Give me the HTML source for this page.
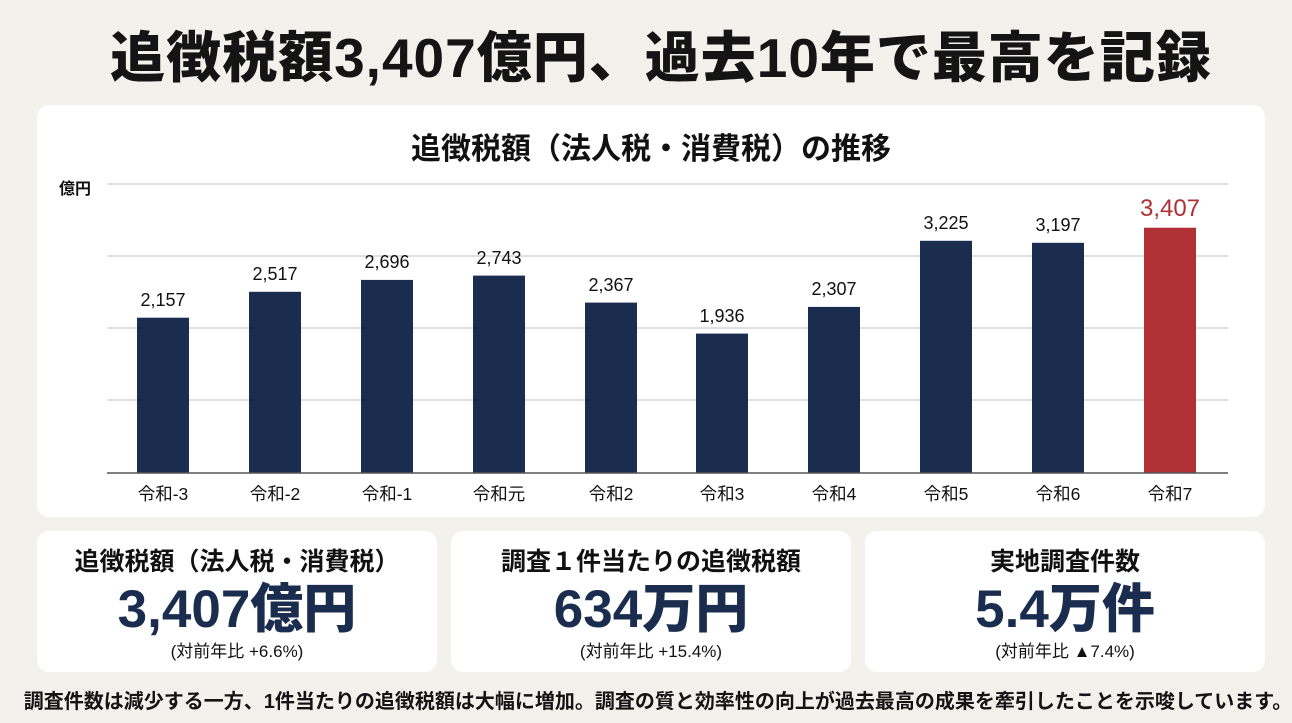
<!DOCTYPE html>
<html><head><meta charset="utf-8"><style>
*{margin:0;padding:0;box-sizing:border-box}
body{width:1292px;height:723px;background:#f3f1ec;font-family:"Liberation Sans","Noto Sans CJK JP",sans-serif;position:relative;overflow:hidden;color:#111}
.abs{position:absolute}
h1{position:absolute;left:15px;width:1292px;top:27px;text-align:center;font-size:55px;font-weight:900;letter-spacing:1px;color:#141414;line-height:1.15}
.panel{position:absolute;background:#fff;border-radius:12px}
.ct{left:0;width:100%;text-align:center;position:absolute}
.card .t{top:11px;font-size:25px;font-weight:700}
.card .v{top:49px;font-size:53px;font-weight:900;color:#1b2d4f;line-height:1.15}
.card .s{top:106px;font-size:17px}
.foot{position:absolute;left:12px;width:1292px;top:685px;text-align:center;font-size:20px;font-weight:700;color:#141414;white-space:nowrap}
</style></head><body>
<h1>追徴税額3,407億円、過去10年で最高を記録</h1>
<div class="panel" style="left:37px;top:105px;width:1228px;height:412px"></div>
<div class="abs" style="left:0;width:1302px;top:124px;text-align:center;font-size:30px;font-weight:700">追徴税額（法人税・消費税）の推移</div>
<div class="abs" style="left:59px;top:175px;font-size:16px;font-weight:700">億円</div>
<svg class="abs" style="left:0;top:0" width="1292" height="723">
<g stroke="#d6d6d6" stroke-width="1.5">
<line x1="107" y1="184" x2="1228" y2="184"/><line x1="107" y1="256" x2="1228" y2="256"/><line x1="107" y1="328" x2="1228" y2="328"/><line x1="107" y1="400" x2="1228" y2="400"/>
</g>
<g fill="#1b2d4f">
<rect x="137" y="317.7" width="52" height="155.3"/>
<rect x="249" y="291.8" width="52" height="181.2"/>
<rect x="361" y="279.9" width="52" height="193.1"/>
<rect x="473" y="275.6" width="52" height="197.4"/>
<rect x="585" y="302.6" width="52" height="170.4"/>
<rect x="696" y="333.6" width="52" height="139.4"/>
<rect x="808" y="306.9" width="52" height="166.1"/>
<rect x="920" y="240.8" width="52" height="232.2"/>
<rect x="1032" y="242.8" width="52" height="230.2"/>
</g>
<rect x="1144" y="227.7" width="52" height="245.3" fill="#b03034"/>
<line x1="107" y1="473" x2="1228" y2="473" stroke="#555" stroke-width="1.5"/>
<g font-family="Liberation Sans, Noto Sans CJK JP, sans-serif" font-size="18" text-anchor="middle" fill="#111">
<text x="163" y="306">2,157</text><text x="275" y="280">2,517</text><text x="387" y="268">2,696</text><text x="499" y="264">2,743</text><text x="611" y="291">2,367</text><text x="722" y="322">1,936</text><text x="834" y="295">2,307</text><text x="946" y="229">3,225</text><text x="1058" y="231">3,197</text>
<text x="1170" y="216" font-size="24" fill="#b03034">3,407</text>
</g>
<g font-family="Liberation Sans, Noto Sans CJK JP, sans-serif" font-size="17.5" text-anchor="middle" fill="#111">
<text x="163" y="500">令和-3</text><text x="275" y="500">令和-2</text><text x="387" y="500">令和-1</text><text x="499" y="500">令和元</text><text x="611" y="500">令和2</text><text x="722" y="500">令和3</text><text x="834" y="500">令和4</text><text x="946" y="500">令和5</text><text x="1058" y="500">令和6</text><text x="1170" y="500">令和7</text>
</g>
</svg>
<div class="panel card" style="left:37px;top:531px;width:400px;height:141px"><div class="ct t">追徴税額（法人税・消費税）</div><div class="ct v">3,407億円</div><div class="ct s">(対前年比 +6.6%)</div></div>
<div class="panel card" style="left:451px;top:531px;width:400px;height:141px"><div class="ct t">調査１件当たりの追徴税額</div><div class="ct v">634万円</div><div class="ct s">(対前年比 +15.4%)</div></div>
<div class="panel card" style="left:865px;top:531px;width:400px;height:141px"><div class="ct t">実地調査件数</div><div class="ct v">5.4万件</div><div class="ct s">(対前年比 ▲7.4%)</div></div>
<div class="foot">調査件数は減少する一方、1件当たりの追徴税額は大幅に増加。調査の質と効率性の向上が過去最高の成果を牽引したことを示唆しています。</div>
</body></html>
